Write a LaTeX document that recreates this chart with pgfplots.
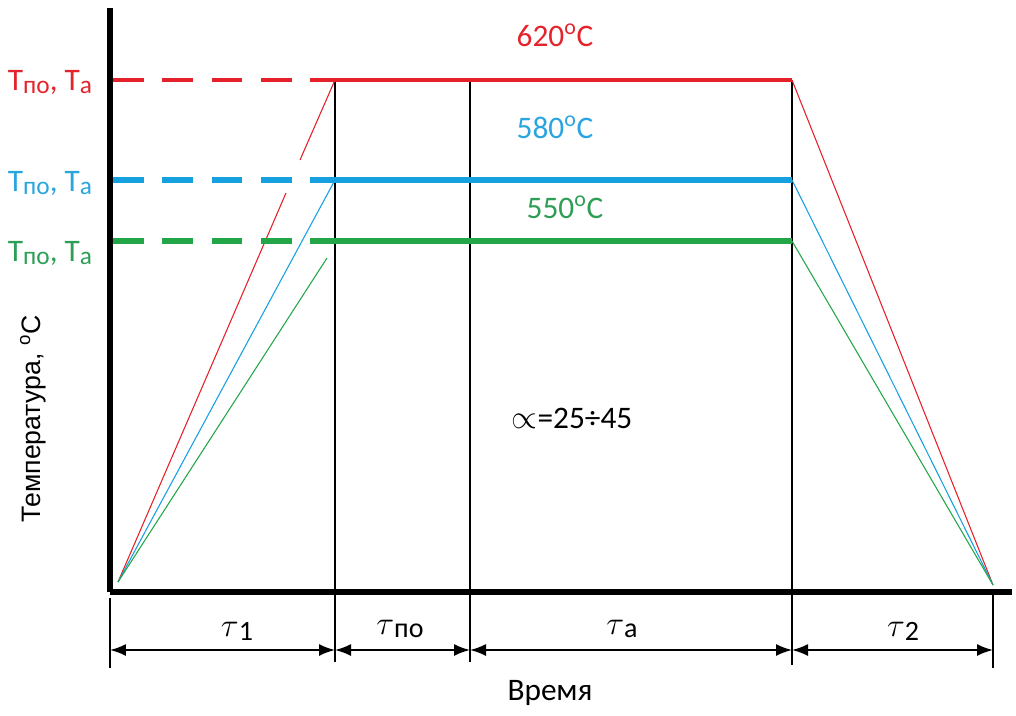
\documentclass[border=0pt]{standalone}
\usepackage{pgfplots}
\pgfplotsset{compat=1.18}
\usepackage{fontspec}
\setmainfont{Carlito}
\newfontfamily\arialf{Liberation Sans}
\usetikzlibrary{arrows.meta}
\definecolor{cred}{RGB}{230,32,40}
\definecolor{cblue}{RGB}{22,160,224}
\definecolor{cgreen}{RGB}{34,166,72}
\definecolor{tred}{RGB}{228,36,44}
\definecolor{tblue}{RGB}{42,165,221}
\definecolor{tgreen}{RGB}{46,158,86}
\newcommand{\lab}{\fontsize{23.5}{28}\selectfont}
\newcommand{\sub}{\fontsize{21}{24}\selectfont}
\newcommand{\Tpo}{T\raisebox{-0.25ex}{\fontsize{19}{19}\selectfont по}, T\raisebox{-0.25ex}{\fontsize{19}{19}\selectfont а}}
\begin{document}
\begin{tikzpicture}
\begin{axis}[x=0.75pt, y=0.75pt,
  xmin=110, xmax=1012, ymin=123, ymax=707,
  enlargelimits=false,
  axis lines=left,
  axis line style={-, line width=3.8pt, black},
  xtick=\empty, ytick=\empty,
  clip=false]
\path (axis cs:0,0) rectangle (axis cs:1016,715);
% vertical thin lines
\draw[black, line width=1.3pt] (axis cs:335,635) -- (axis cs:335,53);
\draw[black, line width=1.3pt] (axis cs:470,635) -- (axis cs:470,53);
\draw[black, line width=1.3pt] (axis cs:792,635) -- (axis cs:792,50);
\draw[black, line width=1.3pt] (axis cs:110,117) -- (axis cs:110,47);
\draw[black, line width=1.3pt] (axis cs:993,123) -- (axis cs:993,47);
% ramps up
\addplot[cred, line width=0.8pt] coordinates {(118,133) (286,522)};
\addplot[cred, line width=0.8pt] coordinates {(300,555) (335,635)};
\addplot[cblue, line width=0.8pt] coordinates {(118,133) (335,535)};
\addplot[cgreen, line width=0.8pt] coordinates {(118,133) (327,457)};
% ramps down
\addplot[cred, line width=0.8pt] coordinates {(792,635) (993,130)};
\addplot[cblue, line width=0.8pt] coordinates {(792,535) (993,130)};
\addplot[cgreen, line width=0.8pt] coordinates {(792,474) (993,130)};
% levels dashed
\addplot[cred, line width=3.6pt, dash pattern=on 23pt off 14pt] coordinates {(113,635) (335,635)};
\addplot[cblue, line width=4.2pt, dash pattern=on 23pt off 14pt] coordinates {(113,535) (335,535)};
\addplot[cgreen, line width=3.8pt, dash pattern=on 23pt off 14pt] coordinates {(113,474) (335,474)};
% levels solid
\addplot[cred, line width=3.6pt] coordinates {(335,635) (792,635)};
\addplot[cblue, line width=4.2pt] coordinates {(335,535) (792,535)};
\addplot[cgreen, line width=3.8pt] coordinates {(335,474) (792,474)};
% dimension arrows
\draw[{Latex[length=12pt,width=9pt]}-{Latex[length=12pt,width=9pt]}, line width=1.3pt] (axis cs:110,65) -- (axis cs:335,65);
\draw[{Latex[length=12pt,width=9pt]}-{Latex[length=12pt,width=9pt]}, line width=1.3pt] (axis cs:335,65) -- (axis cs:470,65);
\draw[{Latex[length=12pt,width=9pt]}-{Latex[length=12pt,width=9pt]}, line width=1.3pt] (axis cs:470,65) -- (axis cs:792,65);
\draw[{Latex[length=12pt,width=9pt]}-{Latex[length=12pt,width=9pt]}, line width=1.3pt] (axis cs:792,65) -- (axis cs:993,65);
% tau labels
\node at (axis cs:237,84) {{\fontsize{28}{28}\selectfont$\tau$}\raisebox{-0.5ex}{\sub 1}};
\node at (axis cs:400,86) {{\fontsize{28}{28}\selectfont$\tau$}\raisebox{-0.5ex}{\sub по}};
\node at (axis cs:622,86) {{\fontsize{28}{28}\selectfont$\tau$}\raisebox{-0.5ex}{\sub а}};
\node at (axis cs:903,84) {{\fontsize{28}{28}\selectfont$\tau$}\raisebox{-0.5ex}{\sub 2}};
% texts
\node[font=\lab] at (axis cs:550,22) {Время};
\node[font=\arialf\fontsize{20}{24}\selectfont, rotate=90] at (axis cs:33,296) {Температура, \textsuperscript{o}C};
\node[font=\lab, tred] at (axis cs:555,680) {620\textsuperscript{o}C};
\node[font=\lab, tblue] at (axis cs:555,588) {580\textsuperscript{o}C};
\node[font=\lab, tgreen] at (axis cs:565,508) {550\textsuperscript{o}C};
\node[font=\lab] at (axis cs:572,297) {$\propto$=25÷45};
\node[font=\lab, tred] at (axis cs:50,633) {\Tpo};
\node[font=\lab, tblue] at (axis cs:50,532) {\Tpo};
\node[font=\lab, tgreen] at (axis cs:50,462) {\Tpo};
\end{axis}
\end{tikzpicture}
\end{document}
